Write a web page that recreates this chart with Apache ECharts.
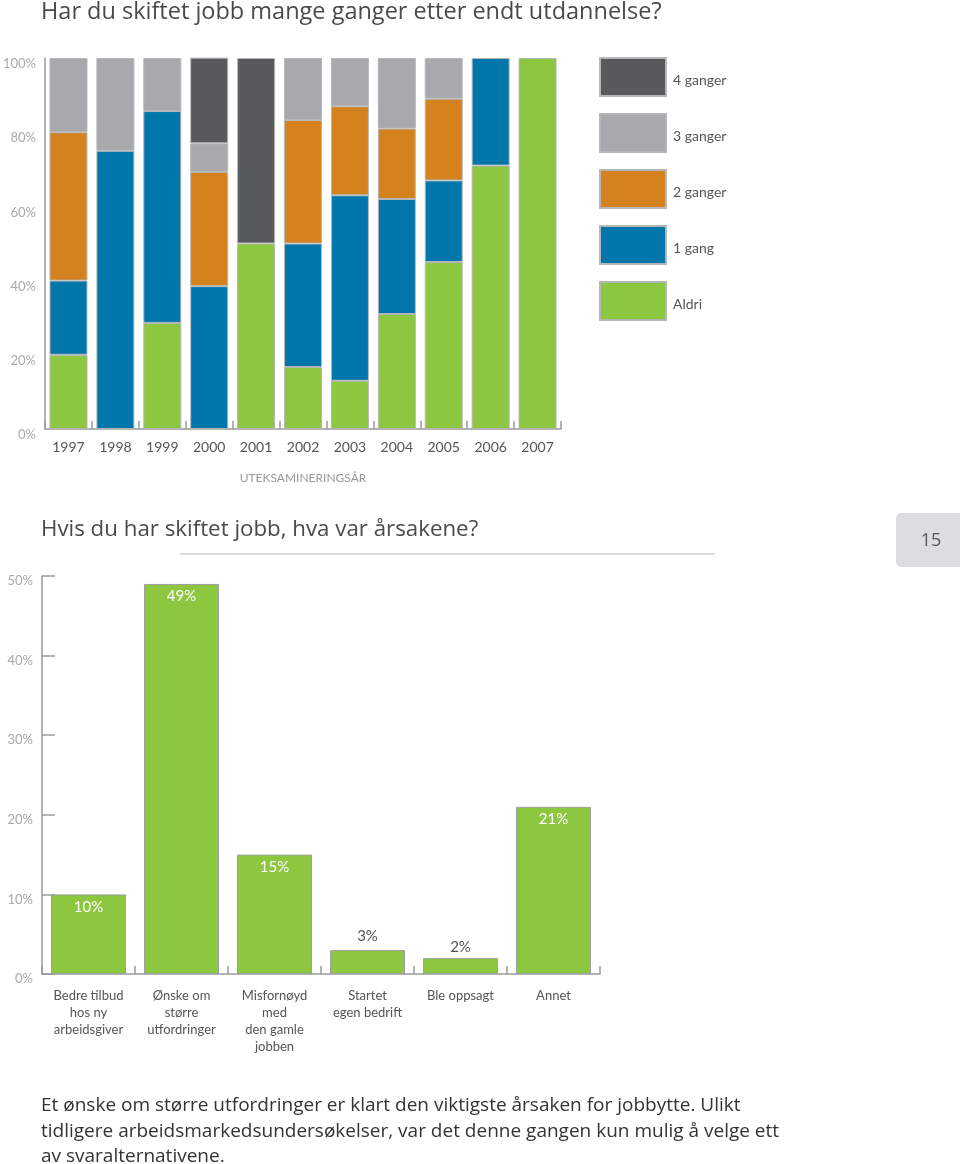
<!DOCTYPE html>
<html>
<head>
<meta charset="utf-8">
<script src="https://cdn.jsdelivr.net/npm/echarts@6/dist/echarts.min.js"></script>
<style>
html,body{margin:0;padding:0;background:#fff;}
#c{width:960px;height:1164px;}
</style>
</head>
<body>
<div id="c"></div>
<script>
// ---- Top chart data ----
const years = ['1997','1998','1999','2000','2001','2002','2003','2004','2005','2006','2007'];
const aldri    = [20, 0, 28.6, 0, 50, 16.7, 13, 31, 45, 71, 100];
const enGang   = [20, 75, 57.1, 38.5, 0, 33.3, 50, 31, 22, 29, 0];
const toGanger = [40, 0, 0, 30.8, 0, 33.3, 24, 19, 22, 0, 0];
const treGanger= [20, 25, 14.3, 7.7, 0, 16.7, 13, 19, 11, 0, 0];
const fireGanger=[0, 0, 0, 23.1, 50, 0, 0, 0, 0, 0, 0];
const topTicks = [0, 20, 40, 60, 80, 100];

// ---- Bottom chart data ----
const reasons = ['Bedre tilbud\nhos ny\narbeidsgiver','Ønske om\nstørre\nutfordringer','Misfornøyd\nmed\nden gamle\njobben','Startet\negen bedrift','Ble oppsagt','Annet'];
const reasonValues = [10, 49, 15, 3, 2, 21];
const bottomTicks = [0, 10, 20, 30, 40, 50];

const FONT = 'Lato';
const TFONT = '"Open Sans"';
const colors = {
  '4 ganger': '#58595b',
  '3 ganger': '#a7a9ac',
  '2 ganger': '#d4821e',
  '1 gang':   '#0076ab',
  'Aldri':    '#8dc63f'
};
const stackSeries = [
  ['Aldri', aldri],
  ['1 gang', enGang],
  ['2 ganger', toGanger],
  ['3 ganger', treGanger],
  ['4 ganger', fireGanger]
];

const chart = echarts.init(document.getElementById('c'));

const series = stackSeries.map(([name, vals]) => ({
  name: name,
  type: 'bar',
  stack: 'top',
  xAxisIndex: 0,
  yAxisIndex: 0,
  barWidth: 38,
  data: vals.map(v => v === 0 ? null : v),
  itemStyle: { color: colors[name], borderColor: '#b5b6b8', borderWidth: 1 },
  emphasis: { disabled: true }
}));

series.push({
  name: 'reasons',
  type: 'bar',
  xAxisIndex: 1,
  yAxisIndex: 1,
  barWidth: 75,
  data: reasonValues.map(v => {
    const big = v >= 10;
    return {
      value: v,
      label: big
        ? { show: true, position: 'insideTop', distance: 5, color: '#fff' }
        : { show: true, position: 'top', distance: v < 3 ? 3 : 6, color: '#555' }
    };
  }),
  label: { formatter: '{c}%', fontFamily: FONT, fontSize: 15 },
  itemStyle: { color: '#8dc63f', borderColor: '#a0a0a0', borderWidth: 1 },
  emphasis: { disabled: true }
});

const option = {
  animation: false,
  backgroundColor: '#fff',
  textStyle: { fontFamily: FONT },
  title: [
    { text: 'Har du skiftet jobb mange ganger etter endt utdannelse?', left: 41, top: 0, padding: 0,
      textStyle: { fontFamily: TFONT, fontSize: 23.5, fontWeight: 'normal', color: '#4a4a4a' } },
    { text: 'Hvis du har skiftet jobb, hva var årsakene?', left: 41, top: 519, padding: 0,
      textStyle: { fontFamily: TFONT, fontSize: 22.3, fontWeight: 'normal', color: '#4a4a4a' } }
  ],
  legend: {
    data: ['4 ganger','3 ganger','2 ganger','1 gang','Aldri'],
    orient: 'vertical',
    left: 599, top: 57,
    padding: 0,
    itemWidth: 66, itemHeight: 38, itemGap: 16,
    icon: 'rect',
    selectedMode: false,
    formatter: name => '{a|' + name + '}',
    textStyle: { color: '#555', fontSize: 14, fontFamily: FONT,
      rich: { a: { color: '#555', fontSize: 14, fontFamily: FONT, padding: [7, 0, 0, 2] } } }
  },
  grid: [
    { left: 41, top: 58, width: 520, height: 371 },
    { left: 42, top: 576, width: 558, height: 398 }
  ],
  xAxis: [
    {
      type: 'category', gridIndex: 0, data: years,
      axisLine: { lineStyle: { color: '#9a9a9a', width: 1.5 } },
      axisTick: { show: true, inside: true, length: 8, lineStyle: { color: '#9a9a9a', width: 1.5 } },
      axisLabel: { color: '#555', fontSize: 14, margin: 11 },
      name: 'UTEKSAMINERINGSÅR', nameLocation: 'middle', nameGap: 43,
      nameTextStyle: { color: '#999', fontSize: 12 }
    },
    {
      type: 'category', gridIndex: 1, data: reasons,
      axisLine: { lineStyle: { color: '#9a9a9a', width: 1.5 } },
      axisTick: { show: true, inside: true, length: 8, lineStyle: { color: '#9a9a9a', width: 1.5 } },
      axisLabel: { color: '#555', fontSize: 13, lineHeight: 17, margin: 13, interval: 0 }
    }
  ],
  yAxis: [
    {
      type: 'value', gridIndex: 0, min: topTicks[0], max: topTicks[topTicks.length-1], interval: 20,
      axisLine: { show: true, lineStyle: { color: '#9a9a9a', width: 1.5 } },
      axisTick: { show: false },
      splitLine: { show: false },
      axisLabel: { color: '#aaa', fontSize: 13, margin: 9, formatter: '{value}%', verticalAlign: 'top', lineHeight: 12 }
    },
    {
      type: 'value', gridIndex: 1, min: bottomTicks[0], max: bottomTicks[bottomTicks.length-1], interval: 10,
      axisLine: { show: true, lineStyle: { color: '#9a9a9a', width: 1.5 } },
      axisTick: { show: true, inside: true, length: 13, lineStyle: { color: '#9a9a9a', width: 1.5 } },
      splitLine: { show: false },
      axisLabel: { color: '#aaa', fontSize: 13, margin: 9, formatter: '{value}%', verticalAlign: 'top', lineHeight: 10 }
    }
  ],
  series: series,
  graphic: [
    { type: 'line', shape: { x1: 180, y1: 554, x2: 715, y2: 554 }, style: { stroke: '#cfcfcf', lineWidth: 1.5 } },
    { type: 'rect', shape: { x: 896, y: 513, width: 80, height: 54, r: 5 }, style: { fill: '#dcdddf' } },
    { type: 'text', x: 931, y: 541, style: { text: '15', fill: '#555', font: '18px ' + TFONT, align: 'center', verticalAlign: 'middle' } },
    { type: 'text', x: 41, y: 1093, style: {
      text: 'Et ønske om større utfordringer er klart den viktigste årsaken for jobbytte. Ulikt\ntidligere arbeidsmarkedsundersøkelser, var det denne gangen kun mulig å velge ett\nav svaralternativene.',
      fill: '#333', font: '19px ' + TFONT, lineHeight: 25.5, align: 'left', verticalAlign: 'top' } }
  ]
};
chart.setOption(option);
</script>
</body>
</html>
